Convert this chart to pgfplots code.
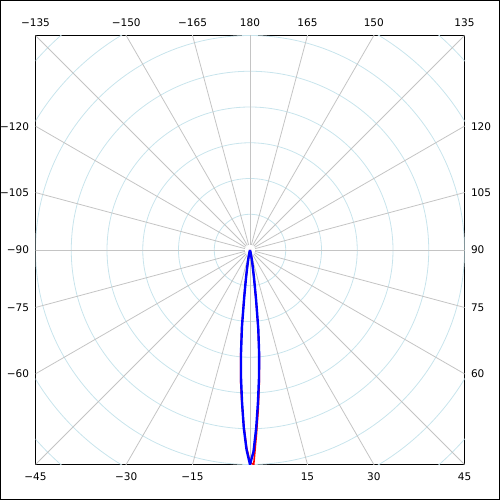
\documentclass[border=0pt]{standalone}
\usepackage{pgfplots}
\usepackage{pgfplotstable}
\usepackage{fontspec}
\setmainfont{DejaVu Sans}
\pgfplotsset{compat=1.18}

% angle from nadir (deg), relative intensity
\pgfplotstableread{
ang  red   blue
-15  0.00  0.00
-13  0.01  0.01
-12  0.02  0.02
-11  0.03  0.04
-10  0.05  0.06
-9   0.09  0.09
-8   0.15  0.14
-7   0.23  0.22
-6   0.37  0.36
-5   0.50  0.48
-4   0.62  0.60
-3   0.72  0.71
-2   0.82  0.83
-1   0.92  0.93
0    0.99  1.00
1    1.00  0.94
2    0.86  0.83
3    0.74  0.71
4    0.62  0.60
5    0.50  0.49
6    0.36  0.37
7    0.22  0.23
8    0.14  0.14
9    0.09  0.09
10   0.06  0.06
11   0.04  0.04
12   0.02  0.02
13   0.01  0.01
15   0.00  0.00
}\lobe

\definecolor{ringc}{RGB}{200,228,236}
\definecolor{spokec}{RGB}{196,196,196}

\begin{document}
\begin{tikzpicture}[font=\fontsize{10.5}{12}\selectfont]
\useasboundingbox (-35.5pt,-35.5pt) rectangle (464.5pt,464.5pt);
\draw[line width=1pt] (-35pt,-35pt) rectangle (464pt,464pt);
\begin{axis}[
  at={(0pt,0pt)}, anchor=south west,
  width=429pt, height=429pt, scale only axis,
  xmin=-1, xmax=1, ymin=-1, ymax=1,
  xtick=\empty, ytick=\empty,
  axis line style={line width=1pt},
  clip=true,
]
  % rings
  \pgfplotsinvokeforeach{1,...,8}{
    \draw[ringc, line width=0.8pt] (axis cs:0,0) circle[radius=#1/6];
  }
  % spokes every 15 degrees
  \pgfplotsinvokeforeach{0,15,...,345}{
    \draw[spokec, line width=0.8pt] (axis cs:{0.025*cos(#1)},{0.025*sin(#1)}) -- (axis cs:{2*cos(#1)},{2*sin(#1)});
  }
  \addplot[red, line width=1.6pt, data cs=polar] table[x expr=\thisrow{ang}-90, y=red] {\lobe};
  \addplot[blue, line width=2.4pt, data cs=polar] table[x expr=\thisrow{ang}-90, y=blue] {\lobe};
\end{axis}
% angle labels where the spokes meet the frame
\begin{scope}[shift={(214.5pt,214.5pt)}, x=214.5pt, y=214.5pt]
  \node[above=5pt] at (-1,1) {−135};
  \node[above=5pt] at (-0.577,1) {−150};
  \node[above=5pt] at (-0.268,1) {−165};
  \node[above=5pt] at (0,1) {180};
  \node[above=5pt] at (0.268,1) {165};
  \node[above=5pt] at (0.577,1) {150};
  \node[above=5pt] at (1,1) {135};
  \node[below=5pt] at (-1,-1) {−45};
  \node[below=5pt] at (-0.577,-1) {−30};
  \node[below=5pt] at (-0.268,-1) {−15};
  \node[below=5pt] at (0.268,-1) {15};
  \node[below=5pt] at (0.577,-1) {30};
  \node[below=5pt] at (1,-1) {45};
  \node[left=3pt] at (-1,0.577) {−120};
  \node[left=3pt] at (-1,0.268) {−105};
  \node[left=3pt] at (-1,0) {−90};
  \node[left=3pt] at (-1,-0.268) {−75};
  \node[left=3pt] at (-1,-0.577) {−60};
  \node[right=3pt] at (1,0.577) {120};
  \node[right=3pt] at (1,0.268) {105};
  \node[right=3pt] at (1,0) {90};
  \node[right=3pt] at (1,-0.268) {75};
  \node[right=3pt] at (1,-0.577) {60};
\end{scope}
\end{tikzpicture}
\end{document}
